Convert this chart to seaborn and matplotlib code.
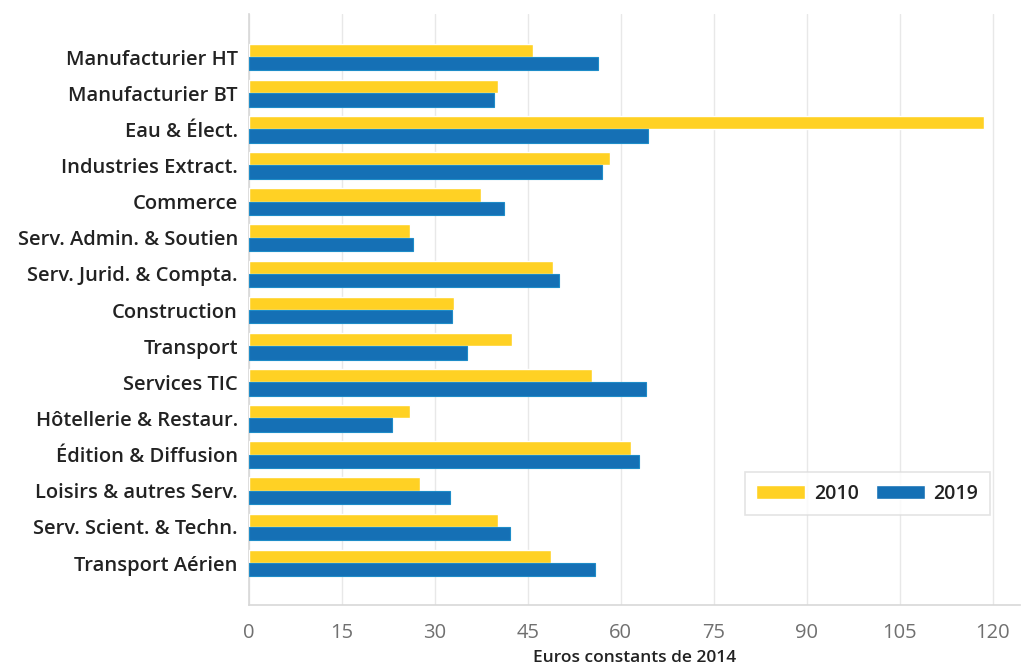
import pandas as pd
import matplotlib
matplotlib.use("Agg")
import matplotlib.pyplot as plt
import seaborn as sns

sectors = [
    "Manufacturier HT", "Manufacturier BT", "Eau & Élect.", "Industries Extract.",
    "Commerce", "Serv. Admin. & Soutien", "Serv. Jurid. & Compta.", "Construction",
    "Transport", "Services TIC", "Hôtellerie & Restaur.", "Édition & Diffusion",
    "Loisirs & autres Serv.", "Serv. Scient. & Techn.", "Transport Aérien",
]
values_2010 = [45.9, 40.1, 118.7, 58.2, 37.4, 25.9, 49.0, 33.1, 42.5, 55.3, 25.9, 61.6, 27.6, 40.1, 48.7]
values_2019 = [56.3, 39.5, 64.4, 57.0, 41.2, 26.4, 50.0, 32.7, 35.1, 64.0, 23.0, 63.0, 32.5, 42.1, 55.9]
years = ["2010", "2019"]
xticks = [0, 15, 30, 45, 60, 75, 90, 105, 120]

df = pd.DataFrame({
    "secteur": sectors * 2,
    "valeur": values_2010 + values_2019,
    "annee": [years[0]] * len(sectors) + [years[1]] * len(sectors),
})

sns.set_theme(style="white")
plt.rcParams["font.family"] = ["Open Sans", "DejaVu Sans"]

fig = plt.figure(figsize=(10.27, 6.66), dpi=100)
ax = fig.add_axes([0.2425, 0.0916, 0.7505, 0.8874])

sns.barplot(data=df, x="valeur", y="secteur", hue="annee", orient="h",
            palette={"2010": "#FFD124", "2019": "#1570B5"},
            width=0.74, saturation=1, ax=ax, zorder=3)

# thin lighter edge on the blue bars
for patch in ax.containers[1]:
    patch.set_edgecolor("#1E8CC8")
    patch.set_linewidth(0.8)

ax.set_xlim(0, 124.4)
ax.set_ylim(len(sectors) - 1 + 1.16, -1.19)
ax.set_xticks(xticks)
ax.set_xticklabels([str(t) for t in xticks], fontsize=14.5, color="#707070")
ax.tick_params(axis="y", labelsize=14.5, colors="#222222", length=0, pad=8)
ax.tick_params(axis="x", length=0, pad=13)
for lab in ax.get_yticklabels():
    lab.set_fontweight("semibold")

ax.set_ylabel("")
ax.set_xlabel("Euros constants de 2014", fontsize=12.5, fontweight="semibold", color="#222222", labelpad=5)

ax.grid(axis="x", color="#e8e8e8", linewidth=1, zorder=0)
ax.set_axisbelow(True)
for side in ["top", "right"]:
    ax.spines[side].set_visible(False)
for side in ["left", "bottom"]:
    ax.spines[side].set_color("#d8d8d8")
    ax.spines[side].set_linewidth(1.2)

leg = ax.legend(loc="lower right", bbox_to_anchor=(0.974, 0.135), ncol=2,
                frameon=True, fancybox=False, handlelength=2.5, handleheight=0.8,
                handletextpad=0.45, columnspacing=0.9, borderpad=0.6,
                prop={"size": 14, "weight": "semibold"})
leg.get_frame().set_edgecolor("#dddddd")
leg.get_frame().set_linewidth(1.2)
for t in leg.get_texts():
    t.set_color("#222222")

fig.savefig("out.png", dpi=100)
